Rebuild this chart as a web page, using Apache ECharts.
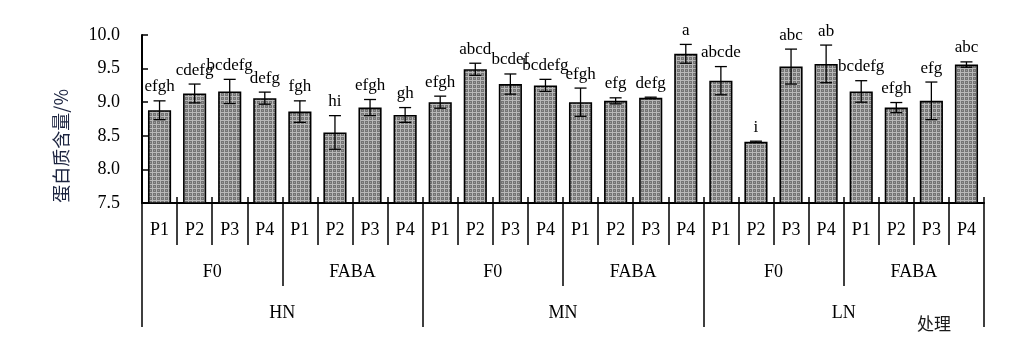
<!DOCTYPE html>
<html>
<head>
<meta charset="utf-8">
<script src="https://cdn.jsdelivr.net/npm/echarts@6/dist/echarts.min.js"></script>
<style>
html,body{margin:0;padding:0;background:#fff;}
#chart{width:1020px;height:359px;}
</style>
</head>
<body>
<div id="chart"></div>
<script>
// ---- data ----
var categories = ['P1','P2','P3','P4','P1','P2','P3','P4','P1','P2','P3','P4','P1','P2','P3','P4','P1','P2','P3','P4','P1','P2','P3','P4'];
var fLevels = ['F0','FABA','F0','FABA','F0','FABA'];
var nLevels = ['HN','MN','LN'];
var values = [8.88, 9.13, 9.16, 9.06, 8.86, 8.55, 8.92, 8.81,
              9.00, 9.49, 9.27, 9.25, 9.00, 9.02, 9.065, 9.72,
              9.32, 8.41, 9.53, 9.57, 9.16, 8.92, 9.02, 9.56];
var errors = [0.14, 0.14, 0.18, 0.09, 0.16, 0.25, 0.12, 0.11,
              0.09, 0.09, 0.15, 0.09, 0.21, 0.045, 0.01, 0.14,
              0.21, 0.01, 0.26, 0.28, 0.16, 0.075, 0.28, 0.04];
var letters = ['efgh','cdefg','bcdefg','defg','fgh','hi','efgh','gh',
               'efgh','abcd','bcdef','bcdefg','efgh','efg','defg','a',
               'abcde','i','abc','ab','bcdefg','efgh','efg','abc'];
var yTicks = [7.5, 8.0, 8.5, 9.0, 9.5, 10.0];

// ---- bar texture ----
var pat = document.createElement('canvas');
pat.width = 4; pat.height = 4;
var pc = pat.getContext('2d');
pc.fillStyle = '#747474'; pc.fillRect(0,0,4,4);
pc.fillStyle = '#b8b8b8';
pc.fillRect(0,0,1,4); pc.fillRect(0,0,4,1);
pc.fillStyle = '#9a9a9a';
pc.fillRect(2,2,1,1);

var serif = '"Liberation Serif","Times New Roman",serif';
var cjk = '"Noto Sans CJK SC","Noto Sans",sans-serif';

var chart = echarts.init(document.getElementById('chart'));
var errData = values.map(function(v,i){ return [i, v, errors[i]]; });

chart.setOption({
  animation: false,
  backgroundColor: '#fff',
  grid: {left: 142, right: 36, top: 35, bottom: 156},
  xAxis: [
    {
      type: 'category', data: categories, position: 'bottom',
      axisLine: {show: true, lineStyle: {color: '#000', width: 2}},
      axisTick: {show: true, interval: 0, length: 42, lineStyle: {color: '#000', width: 1.5}},
      axisLabel: {interval: 0, margin: 18, color: '#000', fontFamily: serif, fontSize: 18}
    },
    {
      type: 'category', data: fLevels, position: 'bottom',
      axisLine: {show: false},
      axisTick: {show: true, interval: 0, length: 83, lineStyle: {color: '#000', width: 1.5}},
      axisLabel: {interval: 0, margin: 60, color: '#000', fontFamily: serif, fontSize: 18}
    },
    {
      type: 'category', data: nLevels, position: 'bottom',
      axisLine: {show: false},
      axisTick: {show: true, interval: 0, length: 124, lineStyle: {color: '#000', width: 1.5}},
      axisLabel: {interval: 0, margin: 101, color: '#000', fontFamily: serif, fontSize: 18}
    },
    {
      type: 'category', data: categories, position: 'bottom',
      axisLine: {show: false},
      axisTick: {show: true, inside: true, interval: 0, length: 6, lineStyle: {color: '#000', width: 1.5}},
      axisLabel: {show: false}
    }
  ],
  yAxis: {
    type: 'value', min: 7.5, max: 10, interval: 0.5,
    axisLine: {show: true, lineStyle: {color: '#000', width: 2}},
    axisTick: {show: true, inside: true, length: 6, lineStyle: {color: '#000', width: 1.5}},
    splitLine: {show: false},
    axisLabel: {margin: 22, color: '#000', fontFamily: serif, fontSize: 18,
      formatter: function(v){ return v.toFixed(1); }}
  },
  graphic: [
    {type: 'text', left: 52, top: 89, rotation: Math.PI/2, originX: 0, originY: 0,
      style: {text: '蛋白质含量/%', fill: '#1c2440', font: '18px ' + cjk}},
    {type: 'text', x: 917, y: 315,
      style: {text: '处理', fill: '#1a1a1a', font: '17px ' + cjk}}
  ],
  series: [
    {
      type: 'bar', data: values, barWidth: '66%', xAxisIndex: 0,
      itemStyle: {color: {image: pat, repeat: 'repeat'}, borderColor: '#000', borderWidth: 1.6}
    },
    {
      type: 'custom', data: errData, xAxisIndex: 0, yAxisIndex: 0, z: 5,
      renderItem: function(params, api){
        var i = api.value(0), v = api.value(1), e = api.value(2);
        var top = api.coord([i, v + e]);
        var bot = api.coord([i, v - e]);
        var cx = top[0], hw = 6;
        var st = {stroke: '#000', lineWidth: 1.3};
        return {
          type: 'group',
          children: [
            {type: 'line', shape: {x1: cx, y1: top[1], x2: cx, y2: bot[1]}, style: st},
            {type: 'line', shape: {x1: cx-hw, y1: top[1], x2: cx+hw, y2: top[1]}, style: st},
            {type: 'line', shape: {x1: cx-hw, y1: bot[1], x2: cx+hw, y2: bot[1]}, style: st},
            {type: 'text', x: cx, y: top[1] - 14,
              style: {text: letters[params.dataIndex], fill: '#000', font: '17px ' + serif,
                align: 'center', verticalAlign: 'middle'}}
          ]
        };
      }
    }
  ]
});
</script>
</body>
</html>
